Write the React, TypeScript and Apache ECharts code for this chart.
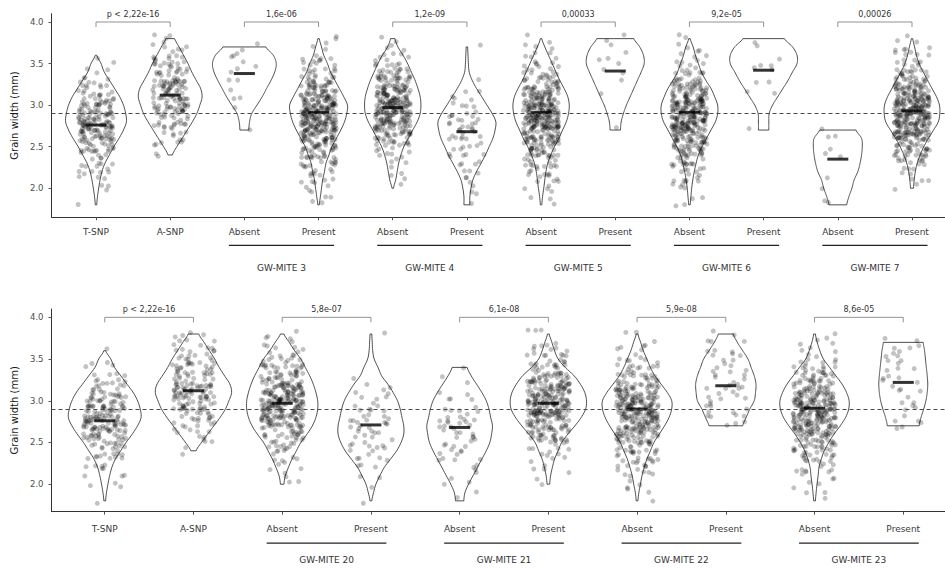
import React, { useEffect, useRef } from 'react';
import * as echarts from 'echarts';

const FONT = 'DejaVu Sans';
const BIN_START = 1.8;
const BIN_STEP = 0.1;
const referenceWidth = 2.9;
const bracketLevel = 4.0;
const yTickValues = [2.0, 2.5, 3.0, 3.5, 4.0];

// ---------- Panel 1 ----------
const panel1Categories = ['T-SNP', 'A-SNP', 'Absent', 'Present', 'Absent', 'Present', 'Absent', 'Present', 'Absent', 'Present', 'Absent', 'Present'];
const panel1Groups = ['GW-MITE 3', 'GW-MITE 4', 'GW-MITE 5', 'GW-MITE 6', 'GW-MITE 7'];
const panel1PValues = ['p < 2,22e-16', '1,6e-06', '1,2e-09', '0,00033', '9,2e-05', '0,00026'];
const panel1Means = [2.76, 3.12, 3.38, 2.91, 2.97, 2.68, 2.91, 3.41, 2.91, 3.42, 2.35, 2.93];
const panel1Lo = [1.8, 2.4, 2.7, 1.8, 2.0, 1.8, 1.8, 2.7, 1.8, 2.7, 1.8, 2.0];
const panel1Hi = [3.6, 3.8, 3.7, 3.8, 3.8, 3.7, 3.8, 3.8, 3.8, 3.8, 2.7, 3.8];

// ---------- Panel 2 ----------
const panel2Categories = ['T-SNP', 'A-SNP', 'Absent', 'Present', 'Absent', 'Present', 'Absent', 'Present', 'Absent', 'Present'];
const panel2Groups = ['GW-MITE 20', 'GW-MITE 21', 'GW-MITE 22', 'GW-MITE 23'];
const panel2PValues = ['p < 2,22e-16', '5,8e-07', '6,1e-08', '5,9e-08', '8,6e-05'];
const panel2Means = [2.76, 3.12, 2.97, 2.71, 2.68, 2.97, 2.90, 3.18, 2.91, 3.22];
const panel2Lo = [1.8, 2.4, 2.0, 1.8, 1.8, 2.0, 1.8, 2.7, 1.8, 2.7];
const panel2Hi = [3.6, 3.8, 3.8, 3.8, 3.4, 3.8, 3.8, 3.8, 3.8, 3.7];

// ---------- violin half-widths (category units), evenly spaced from lo to hi ----------
const wTSnp = [0.01, 0.02, 0.036, 0.055, 0.08, 0.12, 0.18, 0.24, 0.31, 0.37, 0.41, 0.40, 0.37, 0.32, 0.25, 0.18, 0.11, 0.068, 0.01];
const wASnp = [0.03, 0.09, 0.16, 0.23, 0.30, 0.36, 0.40, 0.43, 0.41, 0.35, 0.29, 0.24, 0.18, 0.12, 0.06];
const wAbsent3 = [0.06, 0.07, 0.10, 0.17, 0.24, 0.30, 0.36, 0.41, 0.43, 0.39, 0.29];
const wPresent3 = [0.01, 0.025, 0.04, 0.055, 0.08, 0.10, 0.14, 0.18, 0.24, 0.30, 0.35, 0.38, 0.39, 0.34, 0.28, 0.22, 0.16, 0.12, 0.07, 0.04, 0.01];
const wAbsent4 = [0.01, 0.04, 0.06, 0.08, 0.11, 0.15, 0.21, 0.27, 0.33, 0.37, 0.38, 0.37, 0.34, 0.30, 0.25, 0.20, 0.14, 0.07, 0.03];
const wPresent4 = [0.04, 0.04, 0.055, 0.08, 0.13, 0.19, 0.25, 0.30, 0.35, 0.38, 0.39, 0.34, 0.27, 0.20, 0.13, 0.07, 0.03, 0.02, 0.015, 0.01];
const wAbsent5 = [0.01, 0.02, 0.036, 0.05, 0.065, 0.09, 0.13, 0.18, 0.24, 0.29, 0.34, 0.37, 0.38, 0.36, 0.31, 0.25, 0.20, 0.15, 0.10, 0.05, 0.01];
const wPresent5 = [0.07, 0.08, 0.11, 0.15, 0.20, 0.25, 0.30, 0.35, 0.39, 0.38, 0.33, 0.25];
const wAbsent6 = [0.01, 0.02, 0.03, 0.045, 0.065, 0.09, 0.12, 0.17, 0.23, 0.29, 0.35, 0.38, 0.38, 0.34, 0.29, 0.22, 0.16, 0.12, 0.08, 0.05, 0.01];
const wPresent6 = [0.07, 0.07, 0.075, 0.12, 0.19, 0.26, 0.33, 0.39, 0.45, 0.45, 0.39, 0.28];
const wAbsent7 = [0.12, 0.15, 0.19, 0.22, 0.27, 0.30, 0.32, 0.33, 0.32, 0.245];
const wPresent7 = [0.02, 0.03, 0.045, 0.07, 0.11, 0.16, 0.22, 0.29, 0.355, 0.375, 0.37, 0.33, 0.27, 0.21, 0.15, 0.095, 0.06, 0.035, 0.01];
const wAbsent20 = [0.02, 0.035, 0.07, 0.11, 0.16, 0.21, 0.28, 0.34, 0.38, 0.40, 0.40, 0.38, 0.35, 0.31, 0.26, 0.21, 0.14, 0.08, 0.02];
const wPresent20 = [0.01, 0.03, 0.056, 0.10, 0.15, 0.22, 0.29, 0.34, 0.37, 0.37, 0.35, 0.33, 0.30, 0.25, 0.19, 0.12, 0.08, 0.037, 0.02, 0.015, 0.01];
const wAbsent21 = [0.047, 0.06, 0.10, 0.15, 0.20, 0.25, 0.30, 0.34, 0.36, 0.37, 0.35, 0.33, 0.30, 0.25, 0.19, 0.13, 0.085];
const wPresent21 = [0.015, 0.025, 0.045, 0.07, 0.11, 0.15, 0.22, 0.30, 0.37, 0.42, 0.43, 0.41, 0.36, 0.29, 0.19, 0.11, 0.07, 0.04, 0.01];
const wAbsent22 = [0.01, 0.02, 0.038, 0.055, 0.08, 0.11, 0.15, 0.19, 0.25, 0.31, 0.36, 0.39, 0.39, 0.34, 0.27, 0.20, 0.15, 0.11, 0.07, 0.04, 0.01];
const wPresent22 = [0.19, 0.23, 0.27, 0.32, 0.335, 0.34, 0.32, 0.285, 0.25, 0.19, 0.13, 0.085];
const wAbsent23 = [0.01, 0.018, 0.028, 0.04, 0.05, 0.075, 0.11, 0.16, 0.22, 0.29, 0.35, 0.385, 0.39, 0.36, 0.31, 0.24, 0.17, 0.10, 0.06, 0.03, 0.01];
const wPresent23 = [0.18, 0.20, 0.23, 0.255, 0.27, 0.276, 0.27, 0.26, 0.25, 0.24, 0.225];

// ---------- point counts per 0.1 mm bin (bin centres 1.8 ... 3.8) ----------
const nTSnp = [1, 0, 3, 3, 6, 7, 10, 15, 22, 28, 30, 25, 18, 14, 9, 6, 3, 1, 1, 0, 0];
const nASnp = [0, 0, 0, 0, 0, 0, 2, 3, 5, 8, 12, 17, 20, 22, 20, 17, 14, 11, 8, 5, 4];
const nAbsent3 = [0, 0, 0, 0, 0, 0, 0, 0, 0, 1, 0, 0, 1, 2, 1, 2, 2, 2, 3, 2, 0];
const nPresent3 = [2, 2, 4, 5, 8, 12, 16, 22, 30, 38, 42, 44, 40, 32, 24, 16, 10, 7, 4, 3, 2];
const nAbsent4 = [0, 0, 1, 1, 2, 3, 6, 10, 18, 26, 34, 40, 40, 36, 30, 22, 14, 8, 5, 3, 2];
const nPresent4 = [1, 1, 2, 3, 3, 4, 5, 6, 7, 8, 7, 6, 4, 3, 2, 1, 0, 0, 0, 1, 0];
const nAbsent5 = [1, 2, 4, 5, 8, 12, 16, 22, 30, 38, 44, 46, 40, 32, 24, 16, 10, 7, 5, 3, 2];
const nPresent5 = [0, 0, 0, 0, 0, 0, 0, 0, 0, 1, 0, 0, 0, 1, 0, 1, 2, 2, 2, 1, 2];
const nAbsent6 = [2, 2, 4, 6, 8, 12, 16, 22, 30, 38, 42, 44, 40, 32, 24, 16, 10, 6, 4, 3, 2];
const nPresent6 = [0, 0, 0, 0, 0, 0, 0, 0, 0, 1, 0, 0, 0, 1, 1, 2, 2, 2, 1, 1, 1];
const nAbsent7 = [2, 0, 1, 1, 0, 0, 2, 1, 2, 1, 0, 0, 0, 0, 0, 0, 0, 0, 0, 0, 0];
const nPresent7 = [0, 0, 2, 3, 5, 9, 14, 20, 28, 36, 42, 46, 44, 38, 28, 20, 12, 8, 5, 4, 3];
const nAbsent20 = [0, 0, 2, 2, 3, 5, 7, 11, 18, 26, 34, 38, 40, 36, 30, 22, 15, 10, 6, 4, 3];
const nPresent20 = [1, 0, 1, 2, 3, 4, 5, 6, 7, 8, 7, 6, 4, 3, 2, 1, 0, 0, 0, 0, 1];
const nAbsent21 = [1, 1, 2, 2, 3, 4, 5, 6, 7, 8, 7, 5, 3, 2, 1, 1, 1, 0, 0, 0, 0];
const nPresent21 = [0, 0, 1, 2, 3, 4, 7, 11, 18, 26, 34, 40, 42, 38, 30, 22, 14, 9, 6, 4, 3];
const nAbsent22 = [1, 2, 3, 5, 7, 11, 15, 20, 27, 34, 40, 42, 38, 30, 22, 15, 10, 6, 4, 3, 2];
const nPresent22 = [0, 0, 0, 0, 0, 0, 0, 0, 0, 3, 4, 5, 5, 5, 5, 5, 5, 4, 4, 3, 2];
const nAbsent23 = [1, 2, 3, 5, 7, 11, 15, 21, 28, 35, 40, 42, 38, 30, 22, 15, 10, 6, 4, 3, 2];
const nPresent23 = [0, 0, 0, 0, 0, 0, 0, 0, 0, 3, 3, 3, 3, 3, 3, 3, 4, 4, 4, 3, 0];

const panel1Widths = [wTSnp, wASnp, wAbsent3, wPresent3, wAbsent4, wPresent4, wAbsent5, wPresent5, wAbsent6, wPresent6, wAbsent7, wPresent7];
const panel1Counts = [nTSnp, nASnp, nAbsent3, nPresent3, nAbsent4, nPresent4, nAbsent5, nPresent5, nAbsent6, nPresent6, nAbsent7, nPresent7];
const panel2Widths = [wTSnp, wASnp, wAbsent20, wPresent20, wAbsent21, wPresent21, wAbsent22, wPresent22, wAbsent23, wPresent23];
const panel2Counts = [nTSnp, nASnp, nAbsent20, nPresent20, nAbsent21, nPresent21, nAbsent22, nPresent22, nAbsent23, nPresent23];

const frac = (v: number) => v - Math.floor(v);
// deterministic hash used only for the display jitter (as in geom_jitter)
const hash = (a: number, b: number, c: number, d: number) =>
  frac(Math.sin(a * 127.1 + b * 311.7 + c * 74.7 + d * 19.19) * 43758.5453);

function catmull(arr: number[], t: number) {
  const n = arr.length;
  const pos = t * (n - 1);
  const i = Math.floor(pos);
  if (i >= n - 1) return arr[n - 1];
  const f = pos - i;
  const p0 = arr[Math.max(i - 1, 0)];
  const p1 = arr[i];
  const p2 = arr[i + 1];
  const p3 = arr[Math.min(i + 2, n - 1)];
  const v = 0.5 * (2 * p1 + (-p0 + p2) * f + (2 * p0 - 5 * p1 + 4 * p2 - p3) * f * f + (-p0 + 3 * p1 - 3 * p2 + p3) * f * f * f);
  return Math.max(v, 0.004);
}

function jitterPoints(countsList: number[][], panel: number) {
  const out: number[][] = [];
  countsList.forEach((counts, g) => {
    counts.forEach((c, b) => {
      for (let j = 0; j < c; j++) {
        const u = hash(panel, g, b, j);
        const v = hash(panel + 7.3, g + 1.7, b + 3.1, j + 0.5);
        out.push([g + 1 + (u - 0.5) * 0.48, BIN_START + b * BIN_STEP + (v - 0.5) * BIN_STEP]);
      }
    });
  });
  return out;
}

type PanelCfg = {
  cats: string[];
  groups: string[];
  pvals: string[];
  means: number[];
  lo: number[];
  hi: number[];
  widths: number[][];
  counts: number[][];
  yMin: number;
  lineOff: number;
  textOff: number;
};

function panelSeries(idx: number, p: PanelCfg) {
  const violinData = p.lo.map((l, i) => [i + 1, l, i]);
  const bracketData = p.pvals.map((_, i) => [2 * i + 1, 2 * i + 2, bracketLevel, i]);
  const groupData = p.groups.map((_, i) => [2 * i + 3, 2 * i + 4, p.yMin, i]);
  return [
    {
      type: 'custom',
      xAxisIndex: idx,
      yAxisIndex: idx,
      clip: false,
      silent: true,
      z: 2,
      encode: { x: 0, y: 1 },
      data: violinData,
      renderItem: (params: any, api: any) => {
        const x = api.value(0);
        const k = api.value(2);
        const lo = p.lo[k];
        const hi = p.hi[k];
        const w = p.widths[k];
        const steps = 80;
        const right: number[][] = [];
        const left: number[][] = [];
        for (let s = 0; s <= steps; s++) {
          const t = s / steps;
          const y = lo + (hi - lo) * t;
          const hw = catmull(w, t);
          right.push(api.coord([x + hw, y]));
          left.push(api.coord([x - hw, y]));
        }
        return {
          type: 'polygon',
          shape: { points: right.concat(left.reverse()) },
          style: { fill: '#ffffff', stroke: '#3a3a3a', lineWidth: 0.9 },
        };
      },
      markLine: {
        silent: true,
        symbol: ['none', 'none'],
        label: { show: false },
        lineStyle: { type: [4, 3], color: '#4a4a4a', width: 1 },
        data: [{ yAxis: referenceWidth }],
        z: 5,
      },
    },
    {
      type: 'scatter',
      xAxisIndex: idx,
      yAxisIndex: idx,
      silent: true,
      z: 3,
      symbol: 'circle',
      symbolSize: 5,
      itemStyle: { color: 'rgba(0,0,0,0.3)' },
      data: jitterPoints(p.counts, idx),
    },
    {
      type: 'scatter',
      xAxisIndex: idx,
      yAxisIndex: idx,
      silent: true,
      z: 4,
      symbol: 'rect',
      symbolSize: [21, 3],
      itemStyle: { color: '#000' },
      data: p.means.map((m, i) => [i + 1, m]),
    },
    {
      type: 'custom',
      xAxisIndex: idx,
      yAxisIndex: idx,
      clip: false,
      silent: true,
      z: 6,
      encode: { x: [0, 1], y: 2 },
      data: bracketData,
      renderItem: (params: any, api: any) => {
        const a = api.coord([api.value(0), api.value(2)]);
        const b = api.coord([api.value(1), api.value(2)]);
        const k = api.value(3);
        return {
          type: 'group',
          children: [
            {
              type: 'polyline',
              shape: { points: [[a[0], a[1] + 5], [a[0], a[1]], [b[0], b[1]], [b[0], b[1] + 5]] },
              style: { stroke: '#777', lineWidth: 0.8, fill: 'none' },
            },
            {
              type: 'text',
              style: {
                text: p.pvals[k],
                x: (a[0] + b[0]) / 2,
                y: a[1] - 8,
                align: 'center',
                verticalAlign: 'middle',
                fontSize: 8,
                fontFamily: FONT,
                fill: '#333',
              },
            },
          ],
        };
      },
    },
    {
      type: 'custom',
      xAxisIndex: idx,
      yAxisIndex: idx,
      clip: false,
      silent: true,
      z: 6,
      encode: { x: [0, 1], y: 2 },
      data: groupData,
      renderItem: (params: any, api: any) => {
        const a = api.coord([api.value(0), api.value(2)]);
        const b = api.coord([api.value(1), api.value(2)]);
        const k = api.value(3);
        return {
          type: 'group',
          children: [
            {
              type: 'line',
              shape: { x1: a[0] - 15.5, y1: a[1] + p.lineOff, x2: b[0] + 15.5, y2: b[1] + p.lineOff },
              style: { stroke: '#222', lineWidth: 1.3 },
            },
            {
              type: 'text',
              style: {
                text: p.groups[k],
                x: (a[0] + b[0]) / 2,
                y: a[1] + p.textOff,
                align: 'center',
                verticalAlign: 'middle',
                fontSize: 9,
                fontFamily: FONT,
                fill: '#333',
              },
            },
          ],
        };
      },
    },
  ];
}

function xAxisFor(idx: number, cats: string[], margin: number) {
  const ticks = cats.map((_, i) => i + 1);
  return {
    type: 'value',
    gridIndex: idx,
    min: 0.4,
    max: cats.length + 0.6,
    splitLine: { show: false },
    axisLine: { show: true, lineStyle: { color: '#333', width: 1 } },
    axisTick: { show: true, customValues: ticks, length: 3, lineStyle: { color: '#555' } },
    axisLabel: {
      show: true,
      customValues: ticks,
      formatter: (v: number) => cats[Math.round(v) - 1] || '',
      fontSize: 9,
      fontFamily: FONT,
      color: '#3a3a3a',
      margin,
    },
  };
}

function yAxisFor(idx: number, min: number) {
  return {
    type: 'value',
    gridIndex: idx,
    min,
    max: 4.1,
    name: 'Grain width (mm)',
    nameLocation: 'middle',
    nameGap: 30,
    nameTextStyle: { fontSize: 10, fontFamily: FONT, color: '#1a1a1a' },
    splitLine: { show: false },
    axisLine: { show: true, lineStyle: { color: '#333', width: 1 } },
    axisTick: { show: true, customValues: yTickValues, length: 3, lineStyle: { color: '#555' } },
    axisLabel: {
      show: true,
      customValues: yTickValues,
      formatter: (v: number) => v.toFixed(1),
      fontSize: 8.5,
      fontFamily: FONT,
      color: '#4d4d4d',
      margin: 8,
    },
  };
}

export default function App() {
  const ref = useRef<HTMLDivElement>(null);
  useEffect(() => {
    if (!ref.current) return;
    const chart = echarts.init(ref.current, null, { renderer: 'svg' });
    const p1: PanelCfg = {
      cats: panel1Categories, groups: panel1Groups, pvals: panel1PValues, means: panel1Means,
      lo: panel1Lo, hi: panel1Hi, widths: panel1Widths, counts: panel1Counts,
      yMin: 1.65, lineOff: 28, textOff: 51,
    };
    const p2: PanelCfg = {
      cats: panel2Categories, groups: panel2Groups, pvals: panel2PValues, means: panel2Means,
      lo: panel2Lo, hi: panel2Hi, widths: panel2Widths, counts: panel2Counts,
      yMin: 1.67, lineOff: 31.5, textOff: 48,
    };
    chart.setOption({
      animation: false,
      backgroundColor: '#ffffff',
      textStyle: { fontFamily: FONT },
      grid: [
        { left: 51.5, top: 13.7, width: 905, height: 203.6, containLabel: false, outerBoundsMode: 'none' },
        { left: 51.5, top: 309, width: 905, height: 202.7, containLabel: false, outerBoundsMode: 'none' },
      ],
      xAxis: [xAxisFor(0, panel1Categories, 10), xAxisFor(1, panel2Categories, 13)],
      yAxis: [yAxisFor(0, 1.65), yAxisFor(1, 1.67)],
      series: [...panelSeries(0, p1), ...panelSeries(1, p2)],
    });
    return () => chart.dispose();
  }, []);
  return (
    <div
      ref={ref}
      style={{ position: 'absolute', left: 0, top: 0, width: 945, height: 569, background: '#fff' }}
    />
  );
}
